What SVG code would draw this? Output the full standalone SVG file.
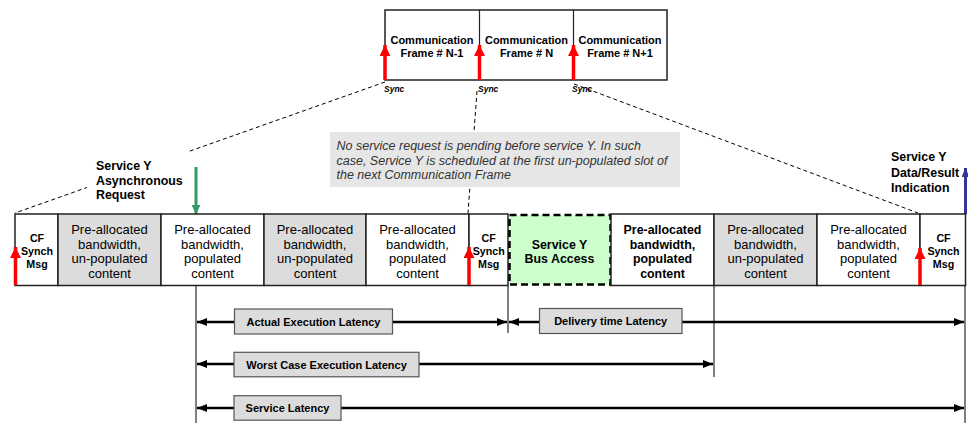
<svg xmlns="http://www.w3.org/2000/svg" width="968" height="423" viewBox="0 0 968 423">
<style>
text{font-family:"Liberation Sans",Arial,sans-serif;fill:#000}
.ft{font-size:11px;font-weight:bold;text-anchor:middle}
.cell{stroke:#222;stroke-width:1.5}
.gray{fill:#dcdcdc}
.white{fill:#fff}
.ct{font-size:13px;text-anchor:middle}
.cb{font-size:12.4px;font-weight:bold;text-anchor:middle}
.cf{font-size:10.7px;font-weight:bold;text-anchor:middle}
.lbl{font-size:12.4px;font-weight:bold}
.sync{font-size:8.5px;font-weight:bold;font-style:italic}
.dash{stroke:#000;stroke-width:1;stroke-dasharray:4,3;fill:none}
.red{stroke:#f00;stroke-width:3.5;fill:none}
.lat{stroke:#000;stroke-width:2.5;fill:none}
.tick{stroke:#000;stroke-width:1;fill:none}
.lbox{fill:#dcdcdc;stroke:#555;stroke-width:1.2}
.lt{font-size:11px;font-weight:bold;text-anchor:middle}
.note{font-size:12.5px;font-style:italic;fill:#333}
</style>
<defs>
<marker id="redHead" markerUnits="userSpaceOnUse" markerWidth="11" markerHeight="12" refX="11" refY="5.5" orient="auto">
<path d="M0,0 L11,5.5 L0,11 z" fill="#f00"/>
</marker>
<marker id="greenHead" markerUnits="userSpaceOnUse" markerWidth="9" markerHeight="9" refX="9" refY="4.5" orient="auto">
<path d="M0,0 L9,4.5 L0,9 z" fill="#339966"/>
</marker>
<marker id="blueHead" markerUnits="userSpaceOnUse" markerWidth="9" markerHeight="8" refX="9" refY="4" orient="auto">
<path d="M0,0 L9,4 L0,8 z" fill="#333399"/>
</marker>
<marker id="blk" markerUnits="userSpaceOnUse" markerWidth="10" markerHeight="8" refX="10" refY="4" orient="auto-start-reverse">
<path d="M0,0 L10,4 L0,8 z" fill="#000"/>
</marker>
</defs>
<rect width="968" height="423" fill="#fff"/>

<g id="connectors">
<line class="dash" x1="385" y1="82" x2="15" y2="213"/>
<line class="dash" x1="477" y1="91" x2="468" y2="213"/>
<line class="dash" x1="574" y1="84" x2="918" y2="213"/>
<line class="tick" x1="196" y1="286" x2="196" y2="423"/>
<line class="tick" x1="508" y1="286" x2="508" y2="333"/>
<line class="tick" x1="714" y1="286" x2="714" y2="377"/>
<line class="tick" x1="965" y1="286" x2="965" y2="423"/>
<line class="lat" x1="197" y1="322" x2="507" y2="322" marker-start="url(#blk)" marker-end="url(#blk)"/>
<line class="lat" x1="509" y1="322" x2="964" y2="322" marker-start="url(#blk)" marker-end="url(#blk)"/>
<line class="lat" x1="197" y1="364" x2="713" y2="364" marker-start="url(#blk)" marker-end="url(#blk)"/>
<line class="lat" x1="197" y1="408" x2="964" y2="408" marker-start="url(#blk)" marker-end="url(#blk)"/>
</g>

<g id="frames">
<rect x="385" y="10" width="282" height="70" fill="#fff" stroke="#222" stroke-width="1.5"/>
<line x1="479.5" y1="10" x2="479.5" y2="80" stroke="#222" stroke-width="1.2"/>
<line x1="573.5" y1="10" x2="573.5" y2="80" stroke="#222" stroke-width="1.2"/>
<text class="ft" x="432" y="43.5">Communication</text>
<text class="ft" x="432" y="57">Frame # N-1</text>
<text class="ft" x="526.5" y="43.5">Communication</text>
<text class="ft" x="526.5" y="57">Frame # N</text>
<text class="ft" x="620" y="43.5">Communication</text>
<text class="ft" x="620" y="57">Frame # N+1</text>
<line class="red" x1="385" y1="80" x2="385" y2="45" marker-end="url(#redHead)"/>
<line class="red" x1="479.5" y1="80" x2="479.5" y2="45" marker-end="url(#redHead)"/>
<line class="red" x1="573.5" y1="80" x2="573.5" y2="45" marker-end="url(#redHead)"/>
<text class="sync" x="384" y="92">Sync</text>
<text class="sync" x="478" y="92">Sync</text>
<text class="sync" x="572" y="92">Sync</text>
</g>

<g id="note">
<rect x="330" y="132" width="350" height="55" fill="#e6e6e6"/>
<text class="note" x="336.5" y="150">No service request is pending before service Y. In such</text>
<text class="note" x="336.5" y="164.5">case, Service Y is scheduled at the first un-populated slot of</text>
<text class="note" x="336.5" y="178.5">the next Communication Frame</text>
</g>

<g id="async-request">
<rect x="87" y="149" width="102" height="52" fill="#fff"/>
<text class="lbl" x="96" y="169.5">Service Y</text>
<text class="lbl" x="96" y="184.5">Asynchronous</text>
<text class="lbl" x="96" y="199">Request</text>
<line x1="196" y1="167" x2="196" y2="214" stroke="#339966" stroke-width="3" marker-end="url(#greenHead)"/>
</g>

<g id="result-indication">
<text class="lbl" x="891" y="161">Service Y</text>
<text class="lbl" x="891" y="176.5">Data/Result</text>
<text class="lbl" x="891" y="191.5">Indication</text>
<line x1="965.5" y1="214" x2="965.5" y2="168" stroke="#333399" stroke-width="3" marker-end="url(#blueHead)"/>
</g>

<g id="cf1">
<rect class="cell white" x="15" y="214" width="43" height="71.5"/>
<text class="cf" x="37" y="241.5">CF</text>
<text class="cf" x="37" y="254.5">Synch</text>
<text class="cf" x="37" y="267.5">Msg</text>
</g>
<g id="slot1">
<rect class="cell gray" x="58" y="214" width="103" height="71.5"/>
<text class="ct" x="109.5" y="234">Pre-allocated</text>
<text class="ct" x="109.5" y="248.5">bandwidth,</text>
<text class="ct" x="109.5" y="263">un-populated</text>
<text class="ct" x="109.5" y="277.5">content</text>
</g>
<g id="slot2">
<rect class="cell white" x="161" y="214" width="103" height="71.5"/>
<text class="ct" x="212.5" y="234">Pre-allocated</text>
<text class="ct" x="212.5" y="248.5">bandwidth,</text>
<text class="ct" x="212.5" y="263">populated</text>
<text class="ct" x="212.5" y="277.5">content</text>
</g>
<g id="slot3">
<rect class="cell gray" x="264" y="214" width="102" height="71.5"/>
<text class="ct" x="315" y="234">Pre-allocated</text>
<text class="ct" x="315" y="248.5">bandwidth,</text>
<text class="ct" x="315" y="263">un-populated</text>
<text class="ct" x="315" y="277.5">content</text>
</g>
<g id="slot4">
<rect class="cell white" x="366" y="214" width="103" height="71.5"/>
<text class="ct" x="417.5" y="234">Pre-allocated</text>
<text class="ct" x="417.5" y="248.5">bandwidth,</text>
<text class="ct" x="417.5" y="263">populated</text>
<text class="ct" x="417.5" y="277.5">content</text>
</g>
<g id="cf2">
<rect class="cell white" x="469" y="214" width="39" height="71.5"/>
<text class="cf" x="488.7" y="241.5">CF</text>
<text class="cf" x="488.7" y="254.5">Synch</text>
<text class="cf" x="488.7" y="267.5">Msg</text>
</g>
<g id="bus-access">
<rect x="509.5" y="215" width="101" height="69.5" fill="#ccffcc" stroke="#000" stroke-width="2.5" stroke-dasharray="7,4"/>
<text class="cb" x="559.5" y="248.5">Service Y</text>
<text class="cb" x="559.5" y="262.5">Bus Access</text>
</g>
<g id="slot5">
<rect class="cell white" x="611" y="214" width="103" height="71.5"/>
<text class="cb" x="662.5" y="234">Pre-allocated</text>
<text class="cb" x="662.5" y="248.5">bandwidth,</text>
<text class="cb" x="662.5" y="263">populated</text>
<text class="cb" x="662.5" y="277.5">content</text>
</g>
<g id="slot6">
<rect class="cell gray" x="714" y="214" width="103" height="71.5"/>
<text class="ct" x="765.5" y="234">Pre-allocated</text>
<text class="ct" x="765.5" y="248.5">bandwidth,</text>
<text class="ct" x="765.5" y="263">un-populated</text>
<text class="ct" x="765.5" y="277.5">content</text>
</g>
<g id="slot7">
<rect class="cell white" x="817" y="214" width="103" height="71.5"/>
<text class="ct" x="868.5" y="234">Pre-allocated</text>
<text class="ct" x="868.5" y="248.5">bandwidth,</text>
<text class="ct" x="868.5" y="263">populated</text>
<text class="ct" x="868.5" y="277.5">content</text>
</g>
<g id="cf3">
<rect class="cell white" x="920" y="214" width="45.5" height="71.5"/>
<text class="cf" x="943.5" y="241.5">CF</text>
<text class="cf" x="943.5" y="254.5">Synch</text>
<text class="cf" x="943.5" y="267.5">Msg</text>
</g>
<g id="sync-arrows">
<line class="red" x1="15.5" y1="285" x2="15.5" y2="247" marker-end="url(#redHead)"/>
<line class="red" x1="469" y1="285" x2="469" y2="247" marker-end="url(#redHead)"/>
<line class="red" x1="920" y1="285" x2="920" y2="248" marker-end="url(#redHead)"/>
</g>

<g id="actual-execution-latency">
<rect class="lbox" x="234.5" y="309" width="158" height="25"/>
<text class="lt" x="313.5" y="325.5">Actual Execution Latency</text>
</g>
<g id="delivery-time-latency">
<rect class="lbox" x="539.5" y="308.5" width="142.5" height="25"/>
<text class="lt" x="610.7" y="325">Delivery time Latency</text>
</g>
<g id="worst-case-execution-latency">
<rect class="lbox" x="234" y="352.3" width="185" height="24.5"/>
<text class="lt" x="326.5" y="368.5">Worst Case Execution Latency</text>
</g>
<g id="service-latency">
<rect class="lbox" x="234" y="395.7" width="107" height="24.5"/>
<text class="lt" x="287.5" y="412">Service Latency</text>
</g>
</svg>
